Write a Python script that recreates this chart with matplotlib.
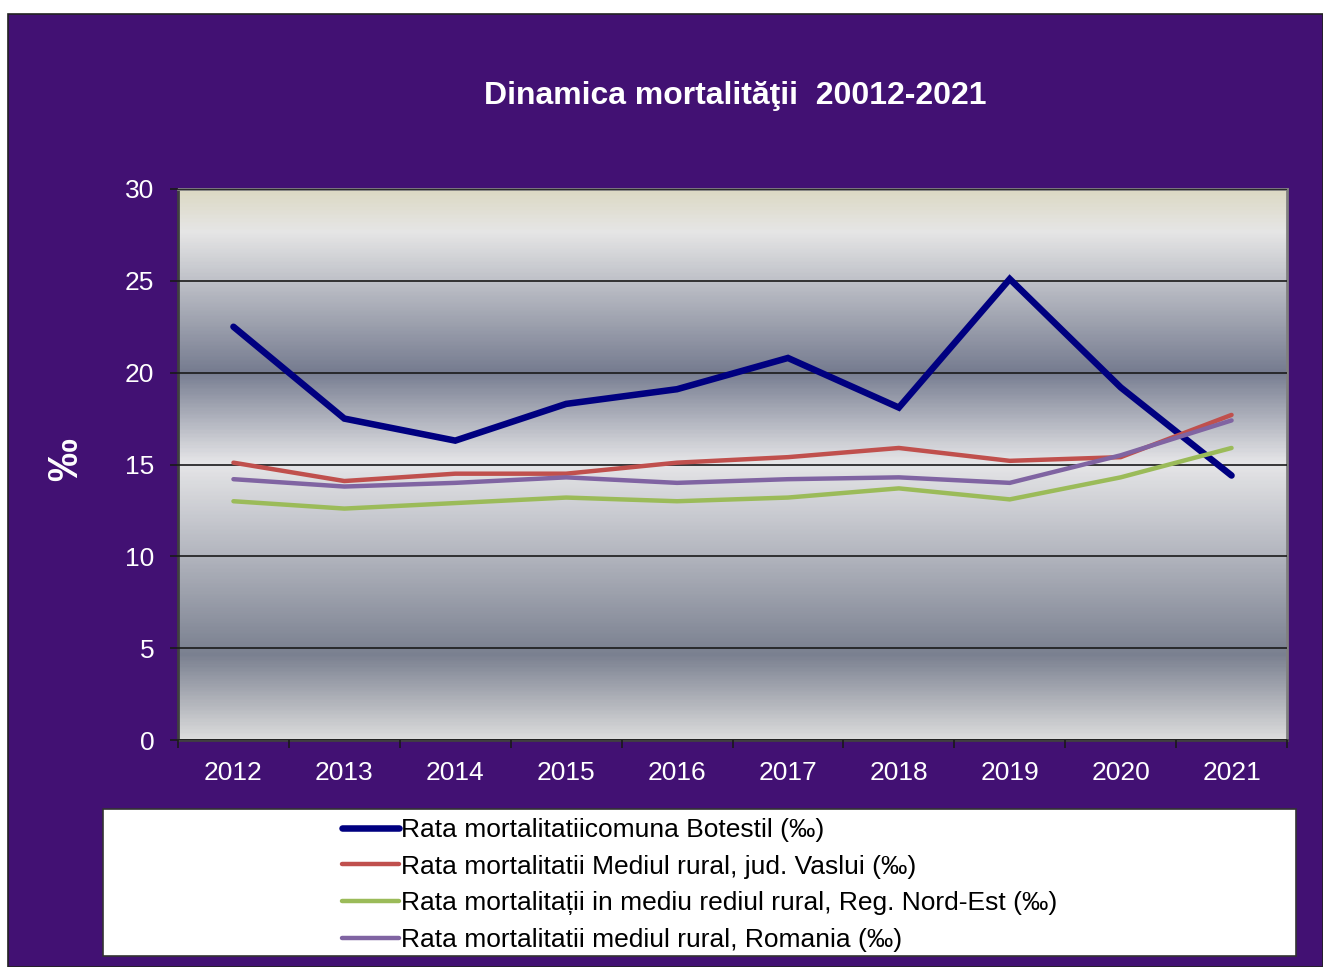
import matplotlib.pyplot as plt
import numpy as np
from matplotlib.colors import LinearSegmentedColormap
from matplotlib.patches import Rectangle

plt.rcParams['font.family'] = ['Liberation Sans', 'DejaVu Sans']

years = ['2012', '2013', '2014', '2015', '2016', '2017', '2018', '2019', '2020', '2021']
botesti = [22.5, 17.5, 16.3, 18.3, 19.1, 20.8, 18.1, 25.1, 19.2, 14.4]
vaslui = [15.1, 14.1, 14.5, 14.5, 15.1, 15.4, 15.9, 15.2, 15.4, 17.7]
nord_est = [13.0, 12.6, 12.9, 13.2, 13.0, 13.2, 13.7, 13.1, 14.3, 15.9]
romania = [14.2, 13.8, 14.0, 14.3, 14.0, 14.2, 14.3, 14.0, 15.5, 17.4]

labels = [
    'Rata mortalitatiicomuna Botestil (‰)',
    'Rata mortalitatii Mediul rural, jud. Vaslui (‰)',
    'Rata mortalitații in mediu rediul rural, Reg. Nord-Est (‰)',
    'Rata mortalitatii mediul rural, Romania (‰)',
]
colors = ['#000080', '#c0504d', '#9bbb59', '#8064a2']
widths = [4.7, 3.2, 3.2, 3.2]

W, H = 1323, 967
fig = plt.figure(figsize=(W / 100, H / 100), dpi=100, facecolor='white')

# purple backdrop
fig.patches.append(Rectangle((8 / W, 0), 1 - 8 / W, 1 - 14 / H, transform=fig.transFigure,
                             facecolor='#421173', edgecolor='#222222', lw=1.2, zorder=-2))

ax = fig.add_axes([178 / W, 1 - 740 / H, (1287 - 178) / W, (740 - 189) / H])

# metallic gradient of the plot area
grad = LinearSegmentedColormap.from_list('metal', [
    (0.0, '#dcdcdc'),
    (0.153, '#7a8090'),
    (0.503, '#e6e6e8'),
    (0.67, '#767c90'),
    (0.925, '#e6e6e6'),
    (1.0, '#dcd9c4'),
])
ax.imshow(np.linspace(0, 1, 400).reshape(-1, 1), cmap=grad, aspect='auto', origin='lower',
          extent=[0, 1, 0, 1], transform=ax.transAxes, zorder=0)

x = np.arange(len(years))
for vals, c, lw, lab in zip([botesti, vaslui, nord_est, romania], colors, widths, labels):
    ax.plot(x, vals, color=c, lw=lw, label=lab, solid_capstyle='round',
            solid_joinstyle='miter', zorder=3)

ax.set_xlim(-0.5, 9.5)
ax.set_ylim(0, 30)
ax.set_yticks(range(0, 31, 5))
ax.yaxis.grid(True, color='#1a1a1a', lw=1.2)
ax.set_axisbelow(False)
for gl in ax.get_ygridlines():
    gl.set_zorder(2)

ax.set_xticks(np.arange(-0.5, 10, 1))
ax.set_xticklabels([])
ax.set_xticks(x, minor=True)
ax.set_xticklabels(years, minor=True)
ax.tick_params(axis='x', which='minor', length=0, pad=15, labelsize=19, labelcolor='white')
ax.tick_params(axis='x', which='major', length=6, width=1.2, color='#1a1a1a')
ax.tick_params(axis='y', length=6, width=1.2, color='#1a1a1a', pad=11,
               labelsize=19, labelcolor='white')

for s in ax.spines.values():
    s.set_color('#808080')
    s.set_linewidth(2)
ax.spines['left'].set_color('#404040')
ax.spines['bottom'].set_color('#404040')

fig.text(735 / W, 1 - 96 / H, 'Dinamica mortalităţii  20012-2021', color='white',
         fontsize=23, fontweight='bold', ha='center', va='center')
fig.text(66 / W, 1 - 460 / H, '‰', color='white', fontsize=31, fontweight='bold',
         rotation=90, ha='center', va='center')

# legend box
fig.patches.append(Rectangle((103 / W, 1 - 956 / H), (1296 - 103) / W, (956 - 809) / H,
                             transform=fig.transFigure, facecolor='white',
                             edgecolor='#333333', lw=1.2, zorder=1))
fig.legend(loc='upper left', bbox_to_anchor=(342 / W, 1 - 818 / H), frameon=False,
           fontsize=19, handlelength=2.15, handletextpad=0.1, labelspacing=0.48,
           borderaxespad=0, borderpad=0)

fig.savefig('out.png', dpi=100, facecolor='white')
